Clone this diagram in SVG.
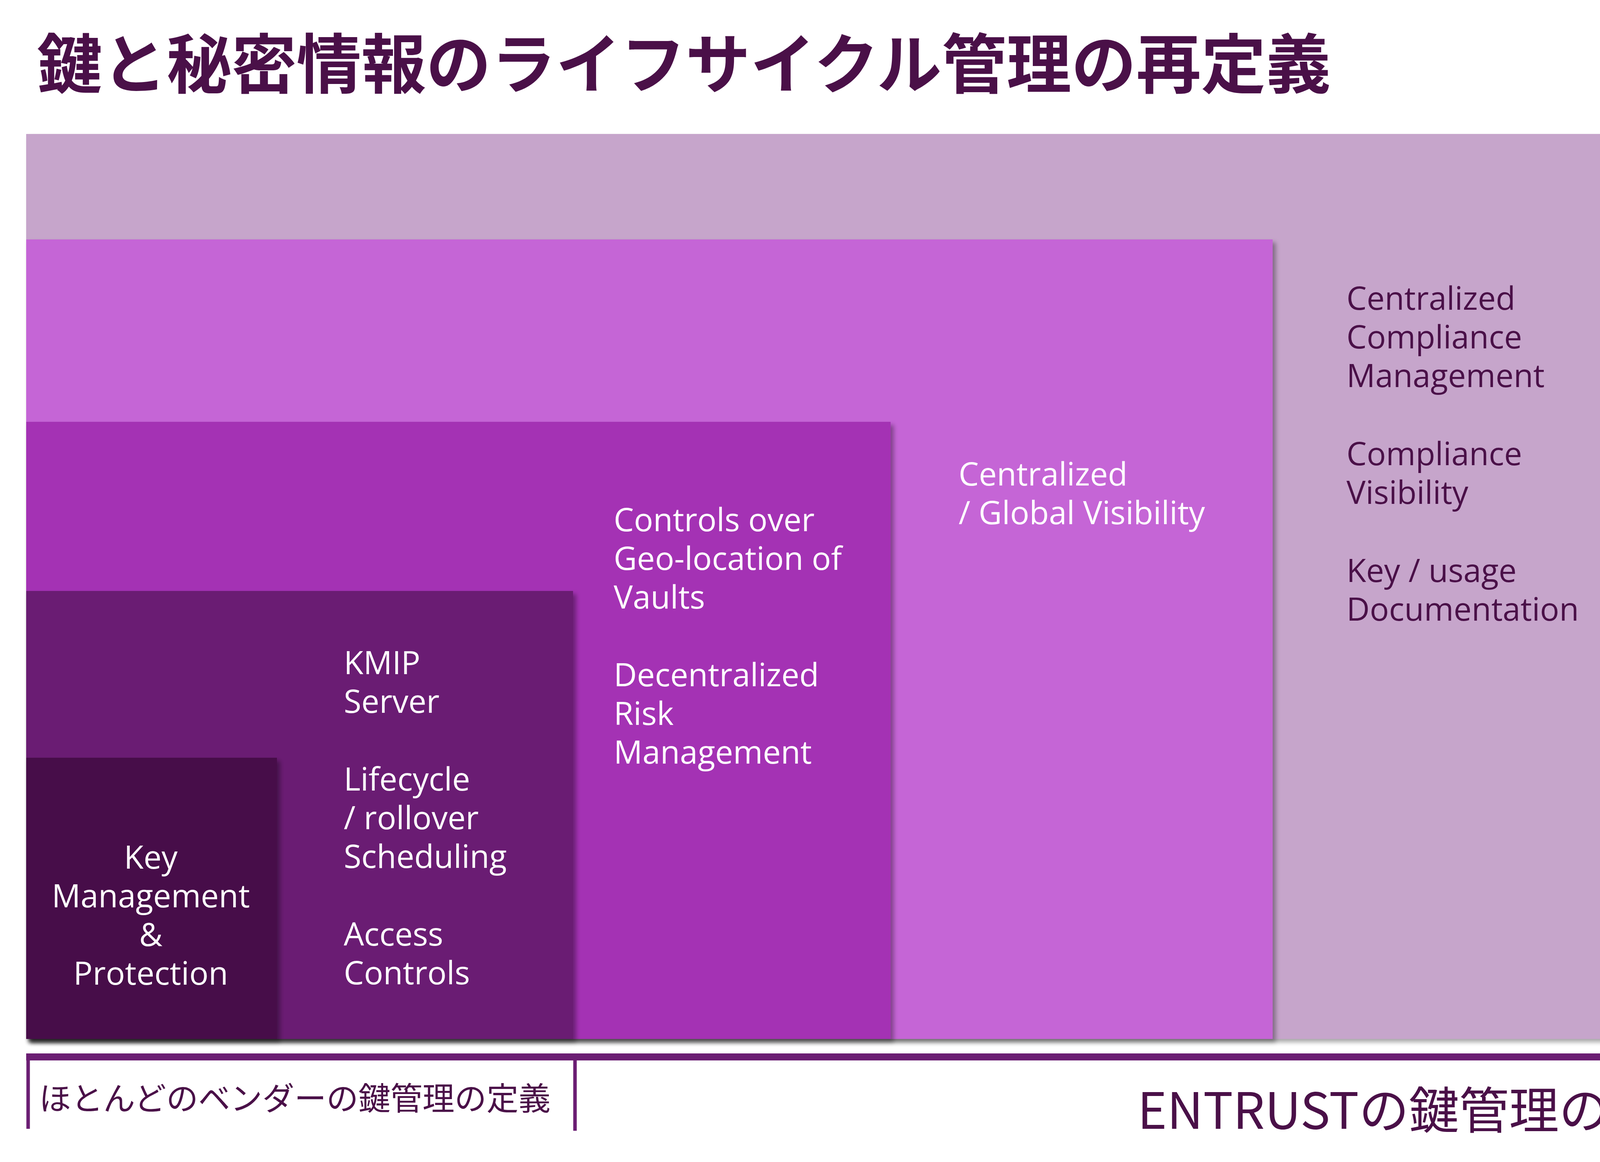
<svg xmlns="http://www.w3.org/2000/svg" width="4530" height="2975" viewBox="0 0 4530 2975">
<style>
.t{font-family:"Open Sans","Noto Sans",sans-serif;font-size:82px}
.w{fill:#fff}.d{fill:#4A1048}
.jp{font-family:"Noto Sans CJK JP",sans-serif;fill:#4A1048}
</style>
<defs>
<filter id="sh" x="-5%" y="-5%" width="110%" height="110%"><feDropShadow dx="8" dy="8" stdDeviation="6" flood-color="#000" flood-opacity="0.35"/></filter>
<marker id="ah" markerWidth="4" markerHeight="4" refX="2" refY="2" orient="auto" markerUnits="strokeWidth"><path d="M0,0.3L2,2L0,3.7Z" fill="#6B1E73"/></marker>
</defs>
<text x="95" y="225" class="jp" font-size="166" font-weight="bold">鍵と秘密情報のライフサイクル管理の再定義</text>
<g id="n1"><rect x="67" y="343" width="4179" height="2317" fill="#C6A5CB" filter="url(#sh)"/>
<text class="t d" x="3447" y="793">Centralized</text><text class="t d" x="3447" y="892">Compliance</text><text class="t d" x="3447" y="991">Management</text>
<text class="t d" x="3447" y="1191">Compliance</text><text class="t d" x="3447" y="1290">Visibility</text>
<text class="t d" x="3447" y="1490">Key / usage</text><text class="t d" x="3447" y="1589">Documentation</text></g>
<g id="n2"><rect x="67" y="613" width="3191" height="2047" fill="#C565D6" filter="url(#sh)"/>
<text class="t w" x="2454" y="1243">Centralized</text><text class="t w" x="2454" y="1342">/ Global Visibility</text></g>
<g id="n3"><rect x="67" y="1080" width="2213" height="1580" fill="#A431B4" filter="url(#sh)"/>
<text class="t w" x="1571" y="1360">Controls over</text><text class="t w" x="1571" y="1459">Geo-location of</text><text class="t w" x="1571" y="1558">Vaults</text>
<text class="t w" x="1571" y="1757">Decentralized</text><text class="t w" x="1571" y="1856">Risk</text><text class="t w" x="1571" y="1955">Management</text></g>
<g id="n4"><rect x="67" y="1513" width="1400" height="1147" fill="#6B1E73" filter="url(#sh)"/>
<text class="t w" x="880" y="1726">KMIP</text><text class="t w" x="880" y="1825">Server</text>
<text class="t w" x="880" y="2024">Lifecycle</text><text class="t w" x="880" y="2123">/ rollover</text><text class="t w" x="880" y="2222">Scheduling</text>
<text class="t w" x="880" y="2421">Access</text><text class="t w" x="880" y="2520">Controls</text></g>
<g id="n5"><rect x="67" y="1940" width="642" height="720" fill="#461048" filter="url(#sh)"/>
<g text-anchor="middle"><text class="t w" x="386" y="2224">Key</text><text class="t w" x="386" y="2323">Management</text><text class="t w" x="386" y="2422">&amp;</text><text class="t w" x="386" y="2521">Protection</text></g></g>
<g id="connectors" stroke="#6B1E73" fill="none">
<line x1="67" y1="2706" x2="4440" y2="2706" stroke-width="18" marker-end="url(#ah)"/>
<line x1="72" y1="2697" x2="72" y2="2890" stroke-width="9"/>
<line x1="1472" y1="2697" x2="1472" y2="2895" stroke-width="9"/>
</g>
<text x="100" y="2842" class="jp" font-size="82">ほとんどのベンダーの鍵管理の定義</text>
<text x="2912" y="2890" class="jp" font-size="128">ENTRUSTの鍵管理の定義</text>
</svg>
